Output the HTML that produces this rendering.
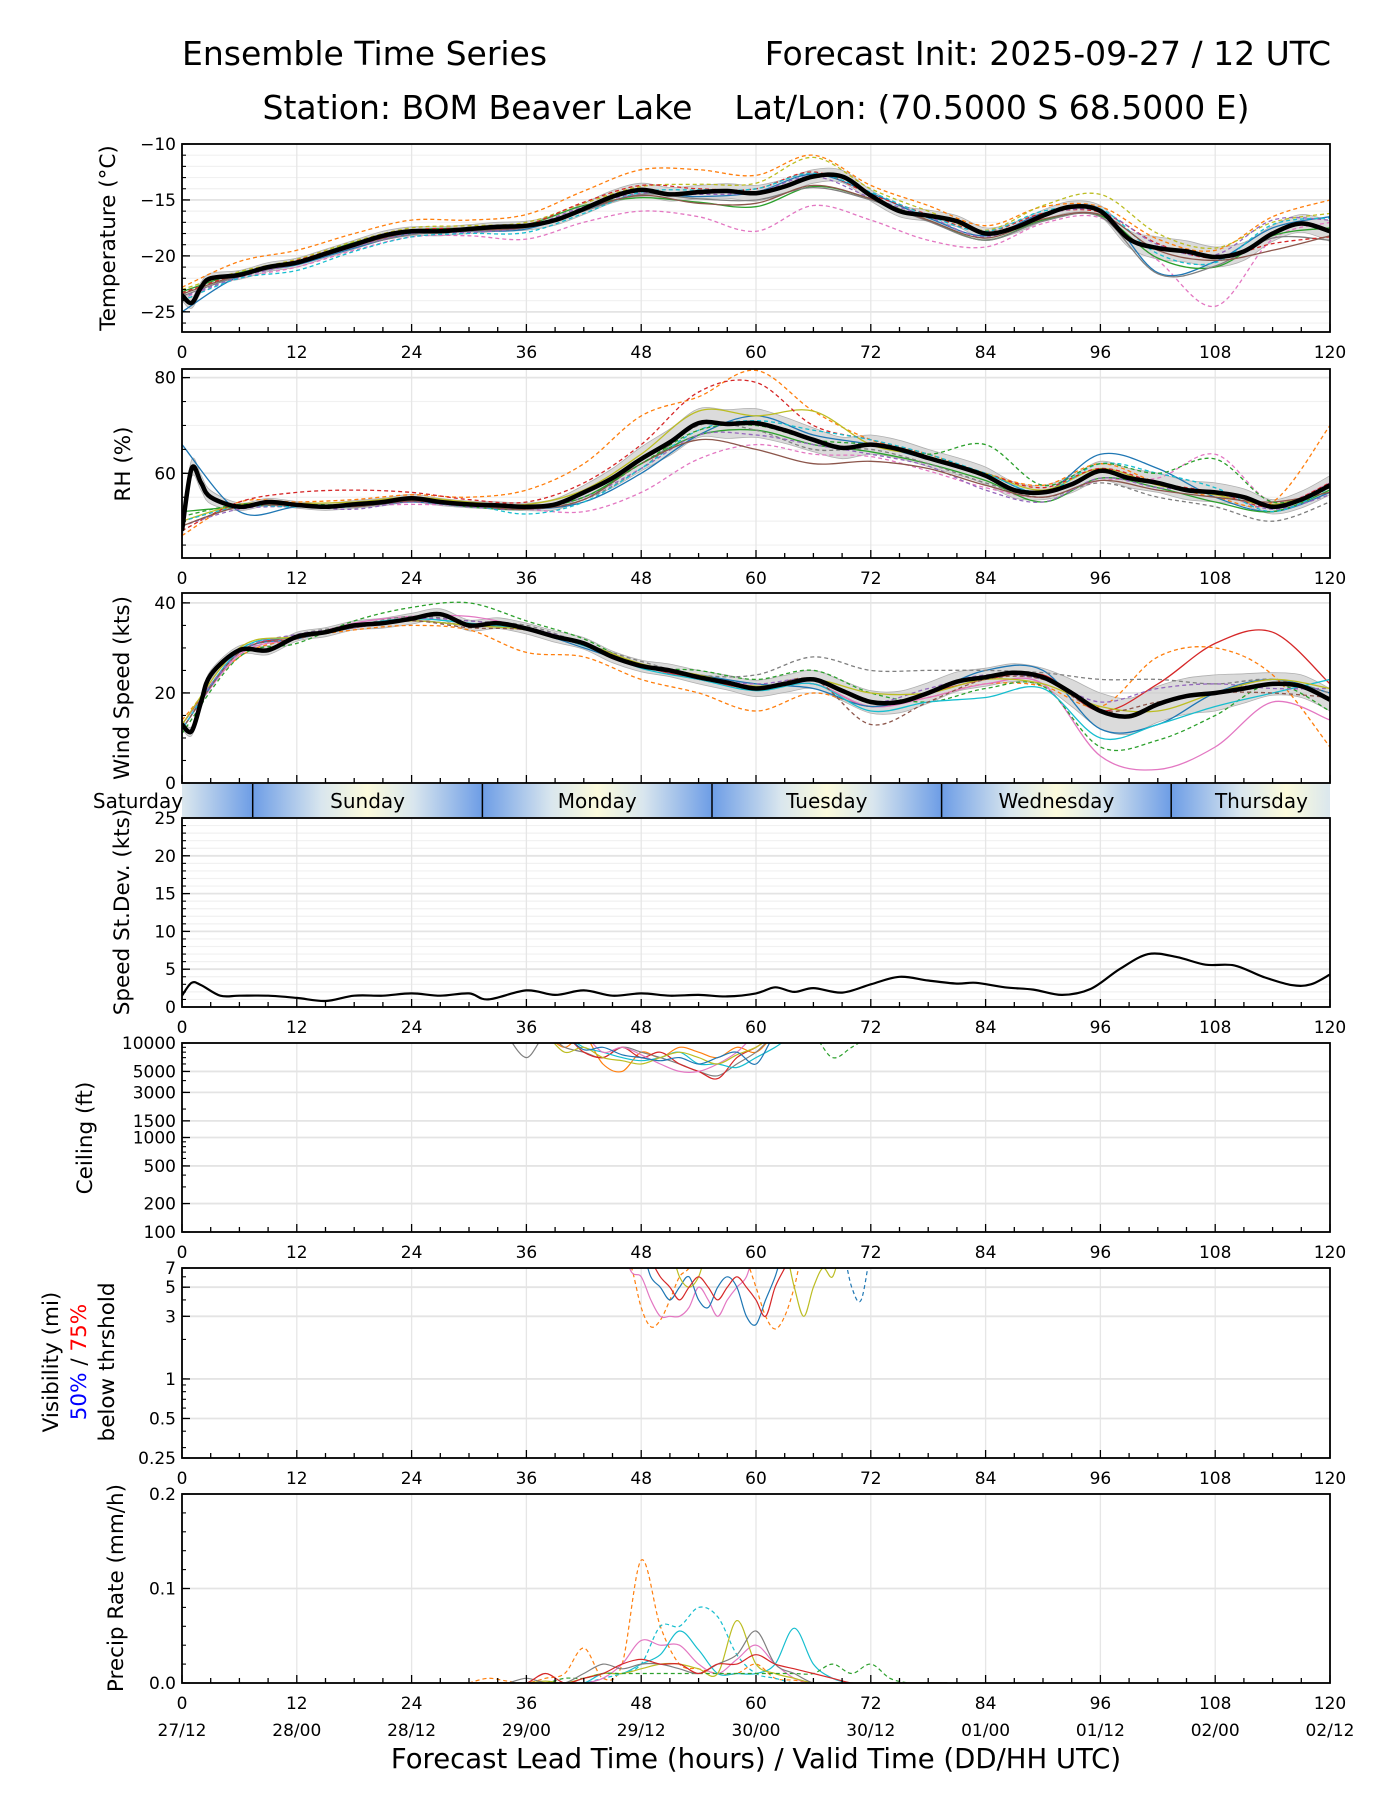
<!DOCTYPE html>
<html><head><meta charset="utf-8"><title>Ensemble Time Series</title>
<style>
html,body{margin:0;padding:0;background:#fff;}
svg{display:block;font-family:"DejaVu Sans","Liberation Sans",sans-serif;}
</style></head>
<body>
<svg id="chart" width="1400" height="1800" viewBox="0 0 1400 1800" xmlns="http://www.w3.org/2000/svg">
<rect width="1400" height="1800" fill="#fff"/>
<text x="182" y="65" font-size="33">Ensemble Time Series</text>
<text x="1331" y="65" font-size="33" text-anchor="end">Forecast Init: 2025-09-27 / 12 UTC</text>
<text x="756" y="119" font-size="33" text-anchor="middle" xml:space="preserve">Station: BOM Beaver Lake    Lat/Lon: (70.5000 S 68.5000 E)</text>
<g id="layer"></g>
<text x="756" y="1768" font-size="27.5" text-anchor="middle">Forecast Lead Time (hours) / Valid Time (DD/HH UTC)</text>
</svg>
<script>
const colors=["#1f77b4","#ff7f0e","#2ca02c","#d62728","#9467bd","#8c564b","#e377c2","#7f7f7f","#bcbd22","#17becf"];
const meanHours=[0,1,2,3,6,9,12,15,18,21,24,27,30,33,36,39,42,45,48,51,54,57,60,63,66,69,72,75,78,81,84,87,90,93,96,99,102,105,108,111,114,117,120];
const tempMean=[-23.5,-24.2,-22.8,-22.0,-21.7,-21.0,-20.6,-19.8,-19.0,-18.2,-17.8,-17.8,-17.6,-17.4,-17.3,-16.8,-15.8,-14.7,-14.1,-14.5,-14.3,-14.2,-14.4,-13.8,-12.9,-12.9,-14.6,-16.0,-16.4,-16.9,-18.0,-17.5,-16.4,-15.6,-16.0,-18.5,-19.3,-19.6,-20.1,-19.6,-18.0,-17.1,-17.8];
const rhMean=[48,61,58,55,53,54,53.4,53,53.5,54,54.8,54,53.5,53.3,53,53.5,56,59,63,66.5,70.5,70.3,70.5,69,67,65.3,66,65,63.2,61.5,59.5,56.5,56,57.7,60.5,59,58,56.5,56,55,53,54.5,57.5];
const windMean=[13,11.5,18,24,29.5,29.5,32.5,33.5,35,35.5,36.5,37.5,35,35.5,34.3,32.5,31,28,26,25,23.5,22.3,21,22,23,20.5,18,18,20,22.5,23.5,24.5,23.5,20,16,14.8,17.5,19.3,20,21,22,21.5,18.5];
const memberHours=[0,6,12,18,24,30,36,42,48,54,60,66,72,78,84,90,96,102,108,114,120];
const tempBandHalf=[0.5,0.4,0.4,0.4,0.4,0.4,0.4,0.5,0.6,0.6,0.7,0.6,0.5,0.5,0.5,0.5,0.5,1.0,0.9,0.7,0.9];
const rhBandHalf=[2,0.8,0.7,0.8,0.8,0.7,0.8,1.5,2.5,3,3,2.5,2,1.8,1.8,1.5,2,2,2,1.5,2];
const windBandHalf=[1,1,1,1,1.2,1.2,1.2,1.3,1.3,1.5,1.8,2,2.5,2.3,2,2,4,4,4,2.5,2.5];
const tempMembers=[
[-22.8,-20.5,-19.5,-18,-16.8,-16.8,-16.3,-14.2,-12.3,-12.3,-12.8,-11,-13.7,-15.5,-17.3,-15.6,-15.6,-18.5,-19.5,-16.5,-15],
[-23.8,-22,-21,-19.5,-18.3,-18.2,-18.5,-17,-16,-16.5,-17.8,-15.5,-16.8,-18.6,-19.2,-17.1,-16.6,-20.4,-24.5,-18.5,-17],
[-25,-21.8,-20.8,-19.3,-18,-17.8,-17.6,-15.9,-14.5,-14.7,-14.3,-12.7,-14.4,-16.6,-18.2,-16.2,-15.8,-21.5,-20.5,-17.5,-16.5],
[-23.2,-21.5,-20.5,-18.8,-17.7,-17.5,-17.2,-15.5,-14.8,-15.2,-15.6,-13.8,-14.9,-16.8,-18.6,-16.8,-16.4,-20.2,-21,-18.2,-17.5],
[-23,-21.4,-20.3,-18.7,-17.5,-17.3,-17.0,-15.3,-13.8,-13.6,-13.5,-11.2,-14.0,-16,-17.7,-15.5,-14.5,-18,-19.3,-17,-16.2],
[-23.6,-21.8,-20.7,-19.2,-18.1,-17.8,-17.5,-16,-14.5,-14.9,-15,-13.9,-15,-16.9,-18.6,-16.9,-16.5,-21.6,-20.9,-18.4,-18.6],
[-23.3,-21.6,-20.4,-18.9,-17.7,-17.5,-17.2,-15.2,-13.7,-14,-14,-12.5,-14.5,-16.3,-17.8,-16.2,-16.1,-18.9,-20.2,-18.9,-18.3],
[-23.7,-21.9,-20.7,-19.2,-18.0,-17.9,-17.4,-15.6,-14.4,-14.5,-14.3,-12.9,-14.8,-16.5,-18.3,-16.3,-16.0,-19,-19.9,-16.8,-16.8],
[-24,-22,-21.3,-19.6,-18.3,-18.0,-17.9,-16.2,-14.3,-14.1,-14,-12.6,-14.3,-16.4,-17.8,-16.0,-15.8,-19.8,-20.6,-17.2,-16.6],
[-23.4,-21.7,-20.6,-19.1,-17.9,-17.7,-17.4,-15.8,-14.6,-15.3,-15.3,-13.7,-14.9,-16.8,-18.4,-16.7,-16.3,-19.5,-20.4,-19.5,-18.2]];
const tempMemberColor=[1,6,0,2,8,7,3,4,9,5];
const tempMemberDash=[1,1,0,0,1,0,1,1,1,0];
const rhMembers=[
[47,54,54,54.5,55.5,55,56.5,62,72,76,81.5,73,67,64,60,57.5,62,58,55,54,70],
[50,53,53,53.2,53.5,53.2,52.5,52,56,63,66,64,63.5,60.5,57,55,58.5,59,64,54,58],
[66,52,53,53,54,53,52.5,54,60,68,72,68,66,63,60,56,64,61,55,52,56],
[52,53,53.5,53,54.3,53,52.5,55,62,68,69,66,64.5,62,58.5,54,59,57,54,52,56.5],
[50,53.5,53.7,54,55,54,53.5,56.5,64,73,72,73,66,63.5,60,56.5,61,57.5,55.5,53.5,57],
[49,53,53,53,54,53,52.5,54.5,61,70,69,65,65,62,58,55,58,55,53,50,54],
[48,54,56,56.5,56,54.5,54,58,66,77,79,70,67,64,60,57,61,58,56,53,58],
[49,52.5,53,52.5,54,53,52.5,55,61,68,68,66,64,61.5,56.5,54,59,57,56,52.5,55.5],
[50,53,53,53,54.3,53.5,51.5,54,61,69,71,69,67,64,60,56,62,60,57,52,57],
[49,53,53.3,53,54.2,53.3,52.5,54.5,62,67,65,62,62.5,61,57.5,55,58.5,56.5,55,54,56],
[51,53.5,53.5,53.5,54.5,53.5,53,55,62,69,70,67,66,64,66,57.5,62,60,63,54,57]];
const rhMemberColor=[1,6,0,2,8,7,3,4,9,5,2];
const rhMemberDash=[1,1,0,0,0,1,1,1,1,0,1];
const windMembers=[
[13,29,32.5,34.5,36,35,34,30.5,26,23,21,22,17,20,23,24,16,22,31,33.5,22],
[14,28,32,34,35,34,29,28,23,20,16,20,17,19,22,21.5,17,28,30,24,8],
[12,28.5,32,35.5,37,37,34.5,31,26,24,21.5,22,17,19,22,22,6,3,8,18,14],
[11,28,31,36,39,40,36,32,26,25,23,25,20,18,21,21.5,8,9.5,15,22,16],
[12,29,32,34.5,36,35,34,30,26,24,22,21,17,20,25,25,12,13,20,23,20],
[13,29,33,35,37,36,35,31,27,24,24,28,25,25,25,24.5,23,23,22,23,20],
[12,29.5,32.5,35,36.5,35.5,34,30.5,25.5,23,20.5,22,16,18,19,21,10,13,17,20,23],
[13,29,33,34.5,36.5,36,34.5,31,26,23.5,22,23,18,21,24,23,18,21,22,21,21],
[13,30,32.5,35,36,35,34,31,26.5,24,21.5,23,20,20,23,22,17,16,20,23,21],
[12,29,32,34.5,36,34.5,34,31,26,23.5,21,23,13,18,23,23,16,18,20,20,19]];
const windMemberColor=[3,1,6,2,0,7,9,4,8,5];
const windMemberDash=[0,1,0,1,0,1,0,1,0,1];
const sdHours=[0,1,2,4,6,9,12,15,18,21,24,27,30,32,36,39,42,45,48,51,54,57,60,62,64,66,69,72,75,78,81,83,86,89,92,95,98,101,104,107,110,113,116,118,120];
const sdValues=[1.5,3.2,2.9,1.5,1.5,1.5,1.2,0.8,1.5,1.5,1.8,1.5,1.8,1.0,2.2,1.6,2.2,1.5,1.8,1.5,1.6,1.4,1.8,2.6,2.0,2.5,1.9,3.0,4.0,3.5,3.1,3.2,2.6,2.3,1.6,2.4,5.0,7.0,6.6,5.6,5.5,4.0,2.9,3.0,4.3];
const ceilHours=[34,36,38,40,42,44,46,48,50,52,54,56,58,60,62,64,66,68,70,72];
const ceilMembers=[
[12000,12000,12000,9000,12000,6000,5000,8000,7000,9000,8000,7000,9000,8000,12000,12000,12000,12000,12000,12000],
[12000,7000,12000,9000,8000,7000,9000,8000,7000,6000,5000,4500,6000,8000,12000,12000,12000,12000,12000,12000],
[12000,12000,12000,12000,8000,7000,9000,7000,8000,6000,5000,4200,7000,9000,12000,12000,12000,12000,12000,12000],
[12000,12000,12000,12000,9000,8000,7000,6500,7000,8000,6000,6000,5500,7000,9000,12000,12000,12000,12000,12000],
[12000,12000,12000,12000,12000,8000,9000,7500,6000,5000,5000,6000,8000,12000,12000,12000,12000,12000,12000,12000],
[12000,12000,12000,8000,9000,7000,6500,6000,7000,8000,7000,6000,7500,9000,12000,12000,12000,12000,12000,12000],
[12000,12000,12000,12000,12000,12000,12000,12000,12000,12000,12000,12000,12000,12000,12000,12000,12000,7000,9000,12000],
[12000,12000,12000,12000,8500,9000,7500,7000,6500,7000,6000,7000,8000,6000,12000,12000,12000,12000,12000,12000]];
const ceilMemberColor=[1,7,3,9,6,8,2,0];
const visHours=[46,47,48,49,50,51,52,53,54,55,56,57,58,59,60,61,62,63,64,65,66,67,68,69,70,71,72];
const visMembers=[
[10,7,3.5,2.5,2.8,4,6,7,10,10,10,10,10,8,5,3,2.4,3,5,10,10,10,10,10,10,10,10],
[10,6.5,6,4,3,3,3,3.5,5,4,3,4,5,6,10,10,10,10,10,10,10,10,10,10,10,10,10],
[10,10,10,6,5,4,5,6,4,3.5,5,6,5,3,2.6,4,6,10,10,10,10,10,10,10,10,10,10],
[10,10,10,10,10,10,6,5,6,10,10,10,10,10,10,10,10,10,5,3,5,7,6,10,10,10,10],
[10,10,10,10,10,10,10,10,10,10,10,10,10,10,10,10,10,10,10,10,10,10,10,10,5,4,10],
[10,10,10,8,6,5,4,5,6,5,4,5,6,5,4,3,5,7,10,10,10,10,10,10,10,10,10]];
const visMemberColor=[1,6,0,8,0,3];
const visMemberDash=[1,0,0,0,1,0];
const precipHours=[30,32,34,36,38,40,42,44,46,48,50,52,54,56,58,60,62,64,66,68,70,72,74,76,78,80];
const precipMembers=[
[0,0.005,0.002,0,0.005,0.01,0.037,0.005,0.02,0.13,0.06,0.02,0.015,0.01,0.01,0.02,0.005,0.003,0,0,0,0,0,0,0,0],
[0,0,0,0,0,0,0,0.005,0.01,0.02,0.06,0.06,0.08,0.07,0.03,0.01,0.005,0,0,0,0,0,0,0,0,0],
[0,0,0,0,0,0,0,0.005,0.02,0.045,0.04,0.04,0.02,0.01,0.025,0.04,0.02,0.005,0,0,0,0,0,0,0,0],
[0,0,0,0,0,0,0,0.01,0.01,0.02,0.03,0.055,0.035,0.01,0.01,0.01,0.02,0.058,0.02,0.005,0,0,0,0,0,0],
[0,0,0,0,0.002,0,0.005,0.01,0.01,0.015,0.02,0.02,0.015,0.01,0.066,0.02,0.01,0.005,0,0,0,0,0,0,0,0],
[0,0,0,0,0,0.005,0.005,0.01,0.01,0.01,0.01,0.01,0.01,0.01,0.01,0.01,0.01,0.01,0.01,0.02,0.01,0.02,0.005,0,0,0],
[0,0,0,0.005,0,0,0.01,0.02,0.015,0.02,0.02,0.015,0.01,0.02,0.03,0.055,0.02,0.01,0,0,0,0,0,0,0,0],
[0,0,0,0,0.01,0,0.005,0.01,0.02,0.025,0.02,0.02,0.01,0.02,0.02,0.03,0.02,0.015,0.01,0.005,0,0,0,0,0,0]];
const precipMemberColor=[1,9,6,9,8,2,7,3];
const precipMemberDash=[1,1,0,0,0,1,0,0];
const hourTicks=[0,12,24,36,48,60,72,84,96,108,120];
const dateLabels=["27/12","28/00","28/12","29/00","29/12","30/00","30/12","01/00","01/12","02/00","02/12"];
const dayNames=["Saturday","Sunday","Monday","Tuesday","Wednesday","Thursday"];
const dayBoundaries=[7.39,31.4,55.4,79.4,103.4];

const NS="http://www.w3.org/2000/svg";
const X0=182,X1=1330;
const layer=document.getElementById('layer');
function xs(h){return X0+h*(X1-X0)/120;}
function mk(tag,attrs,parent){const e=document.createElementNS(NS,tag);for(const k in attrs)e.setAttribute(k,attrs[k]);(parent||layer).appendChild(e);return e;}
function smooth(pts){
  if(pts.length<2)return "";
  let d="M"+pts[0][0].toFixed(1)+","+pts[0][1].toFixed(1);
  for(let i=0;i<pts.length-1;i++){
    const p0=pts[Math.max(0,i-1)],p1=pts[i],p2=pts[i+1],p3=pts[Math.min(pts.length-1,i+2)];
    const c1x=p1[0]+(p2[0]-p0[0])/6,c1y=p1[1]+(p2[1]-p0[1])/6;
    const c2x=p2[0]-(p3[0]-p1[0])/6,c2y=p2[1]-(p3[1]-p1[1])/6;
    d+="C"+c1x.toFixed(1)+","+c1y.toFixed(1)+" "+c2x.toFixed(1)+","+c2y.toFixed(1)+" "+p2[0].toFixed(1)+","+p2[1].toFixed(1);
  }
  return d;
}
function interp(hs,vs,h){
  for(let i=0;i<hs.length-1;i++){if(h>=hs[i]&&h<=hs[i+1]){const t=(h-hs[i])/(hs[i+1]-hs[i]);return vs[i]+t*(vs[i+1]-vs[i]);}}
  return vs[vs.length-1];
}
let clipId=0;
function panel(name,top,bot,ys,majors,minors,labelFmt,opts){
  const g=mk('g',{});
  
  
  const cid='clip'+(clipId++);
  const cp=mk('clipPath',{id:cid},g);mk('rect',{x:X0,y:top,width:X1-X0,height:bot-top},cp);
  (opts.minorGrid||[]).forEach(v=>{const y=ys(v);mk('line',{x1:X0,x2:X1,y1:y,y2:y,stroke:'#f1f1f1','stroke-width':1.2},g);});
  hourTicks.forEach(h=>{const x=xs(h);mk('line',{x1:x,x2:x,y1:top,y2:bot,stroke:'#e6e6e6','stroke-width':1.3},g);});
  (opts.grid||majors).forEach(v=>{const y=ys(v);mk('line',{x1:X0,x2:X1,y1:y,y2:y,stroke:'#e4e4e4','stroke-width':1.8},g);});
  const plot=mk('g',{'clip-path':'url(#'+cid+')'},g);
  for(let h=0;h<=120;h+=3){const x=xs(h);const L=(h%12===0)?8:5;mk('line',{x1:x,x2:x,y1:bot,y2:bot-L,stroke:'#000','stroke-width':1.3},g);}
  majors.forEach((v,i)=>{const y=ys(v);mk('line',{x1:X0,x2:X0+8,y1:y,y2:y,stroke:'#000','stroke-width':1.3},g);
    const t=mk('text',{x:X0-6,y:y+6,'font-size':17,'text-anchor':'end'},g);t.textContent=labelFmt[i];
    
    });
  minors.forEach(v=>{const y=ys(v);mk('line',{x1:X0,x2:X0+4,y1:y,y2:y,stroke:'#000','stroke-width':1.1},g);});
  mk('rect',{x:X0,y:top,width:X1-X0,height:bot-top,fill:'none',stroke:'#000','stroke-width':1.8},g);
  if(!opts.noXLabels){hourTicks.forEach(h=>{const t=mk('text',{x:xs(h),y:bot+26,'font-size':17,'text-anchor':'middle'},g);t.textContent=h;
    
    });}
  return {g,plot};
}
function drawSeries(parent,hs,vs,ys,color,dash,width,nm){
  const pts=hs.map((h,i)=>[xs(h),ys(vs[i])]);
  const p=mk('path',{d:smooth(pts),fill:'none',stroke:color,'stroke-width':width,'stroke-dasharray':dash?'4,3':'none','stroke-linejoin':'round'},parent);
  
  
  return p;
}
function drawBand(parent,ys,mean,half){
  const up=meanHours.map((h,i)=>[xs(h),ys(mean[i]+interp(memberHours,half,h))]);
  const lo=meanHours.map((h,i)=>[xs(h),ys(mean[i]-interp(memberHours,half,h))]).reverse();
  let d=smooth(up)+"L"+lo[0][0]+","+lo[0][1]+smooth(lo).replace(/^M[^C]*/,"")+"Z";
  const p=mk('path',{d:d,fill:'#cfcfcf','fill-opacity':0.75,stroke:'#b0b0b0','stroke-width':0.8},parent);
  
  
}
function linY(top,bot,mn,mx){return v=>bot-(v-mn)/(mx-mn)*(bot-top);}
function logY(top,bot,mn,mx){return v=>bot-(Math.log10(v)-Math.log10(mn))/(Math.log10(mx)-Math.log10(mn))*(bot-top);}
function rng(a,b,s){const r=[];for(let v=a;v<=b+1e-9;v+=s)r.push(+v.toFixed(4));return r;}
function ylabel(lines,x,cy,size){
  const t=mk('text',{transform:'translate('+x+','+cy+') rotate(-90)','font-size':size,'text-anchor':'middle'});
  lines.forEach((ln,i)=>{const ts=mk('tspan',{x:0,dy:i===0?0:size*1.3},t);
    if(Array.isArray(ln)){ln.forEach(seg=>{const s=mk('tspan',{fill:seg[1]},ts);s.textContent=seg[0];});}else ts.textContent=ln;});
  return t;
}
function ensemble(pp,ys,members,mc,md,mean,half,nm){
  drawBand(pp.plot,ys,mean,half);
  members.forEach((m,i)=>drawSeries(pp.plot,memberHours,m,ys,colors[mc[i]],md[i],1.3,nm+'-member-'+(i+1)));
  drawSeries(pp.plot,meanHours,mean,ys,'#000',false,4.5,nm+'-ensemble-mean');
}
const YL=21.5;
// Temperature
let ys=linY(144,332,-26.8,-10);
let P=panel('temperature',144,332,ys,[-10,-15,-20,-25],rng(-26,-10,1),["−10","−15","−20","−25"],{minorGrid:rng(-26,-10,1)});
ensemble(P,ys,tempMembers,tempMemberColor,tempMemberDash,tempMean,tempBandHalf,'temperature');
let L=ylabel(["Temperature (°C)"],115,238,YL);

// RH
ys=linY(369,558,42.3,81.8);
P=panel('rh',369,558,ys,[60,80],rng(45,80,5),["60","80"],{minorGrid:rng(45,80,5)});
ensemble(P,ys,rhMembers,rhMemberColor,rhMemberDash,rhMean,rhBandHalf,'rh');
L=ylabel(["RH (%)"],130,464,YL);

// Wind
ys=linY(593,783,0,42.2);
P=panel('wind-speed',593,783,ys,[0,20,40],rng(0,40,5),["0","20","40"],{noXLabels:true,minorGrid:[]});
ensemble(P,ys,windMembers,windMemberColor,windMemberDash,windMean,windBandHalf,'wind-speed');
L=ylabel(["Wind Speed (kts)"],129,688,YL);

// Day band
(function(){
  const g=mk('g',{});
  
  
  const defs=mk('defs',{},g);
  const gr=mk('linearGradient',{id:'dayGrad',x1:0,x2:1,y1:0,y2:0},defs);
  [[0,'#6d9de6'],[0.3,'#d9e6ee'],[0.5,'#fcfbdc'],[0.7,'#d9e6ee'],[1,'#6d9de6']].forEach(s=>mk('stop',{offset:s[0],'stop-color':s[1]},gr));
  const cp=mk('clipPath',{id:'bandClip'},g);mk('rect',{x:X0,y:784,width:X1-X0,height:34},cp);
  const inner=mk('g',{'clip-path':'url(#bandClip)'},g);
  const starts=[dayBoundaries[0]-24].concat(dayBoundaries);
  starts.forEach(s=>{mk('rect',{x:xs(s),y:784,width:xs(s+24)-xs(s),height:34,fill:'url(#dayGrad)'},inner);});
  dayBoundaries.forEach(b=>{const x=xs(b);const l=mk('line',{x1:x,x2:x,y1:784,y2:818,stroke:'#000','stroke-width':1.5},g);
    });
  const centers=[xs(0)-44,xs(19.4),xs(43.4),xs(67.4),xs(91.4),xs(112)+8];
  dayNames.forEach((d,i)=>{const t=mk('text',{x:centers[i],y:808,'font-size':20,'text-anchor':'middle'},g);t.textContent=d;
    });
})();

// Stdev
ys=linY(818,1007,0,25);
P=panel('speed-stdev',818,1007,ys,[0,5,10,15,20,25],rng(0,25,1),["0","5","10","15","20","25"],{minorGrid:rng(0,25,1)});
drawSeries(P.plot,sdHours,sdValues,ys,'#000',false,2.2,'speed-stdev-line');
L=ylabel(["Speed St.Dev. (kts)"],129,912,YL);

// Ceiling
ys=logY(1043,1232,100,10000);
const ceilTicks=[100,200,500,1000,1500,3000,5000,10000];
const ceilMinor=[100,200,300,400,500,600,700,800,900,1000,2000,3000,4000,5000,6000,7000,8000,9000,10000];
P=panel('ceiling',1043,1232,ys,ceilTicks,ceilMinor,ceilTicks.map(String),{});
ceilMembers.forEach((m,i)=>drawSeries(P.plot,ceilHours,m,ys,colors[ceilMemberColor[i]],i===6,1.2,'ceiling-member-'+(i+1)));
L=ylabel(["Ceiling (ft)"],92,1138,YL);

// Visibility
ys=logY(1268,1458,0.25,7);
const visTicks=[0.25,0.5,1,3,5,7];
P=panel('visibility',1268,1458,ys,visTicks,[0.3,0.4,0.5,0.6,0.7,0.8,0.9,1,2,3,4,5,6,7],visTicks.map(String),{});
visMembers.forEach((m,i)=>drawSeries(P.plot,visHours,m,ys,colors[visMemberColor[i]],visMemberDash[i],1.2,'visibility-member-'+(i+1)));
L=ylabel(["Visibility (mi)",[["50%","#0000ff"],[" / ","#000"],["75%","#ff0000"]],"below thrshold"],58,1362,YL);

// Precip
ys=linY(1494,1683,0,0.2);
P=panel('precip-rate',1494,1683,ys,[0,0.1,0.2],rng(0,0.2,0.02),["0.0","0.1","0.2"],{});
precipMembers.forEach((m,i)=>drawSeries(P.plot,precipHours,m,ys,colors[precipMemberColor[i]],precipMemberDash[i],1.2,'precip-member-'+(i+1)));
L=ylabel(["Precip Rate (mm/h)"],123,1588,YL);
hourTicks.forEach((h,i)=>{const t=mk('text',{x:xs(h),y:1736,'font-size':17,'text-anchor':'middle'});t.textContent=dateLabels[i];
  
  });
</script>
</body></html>
